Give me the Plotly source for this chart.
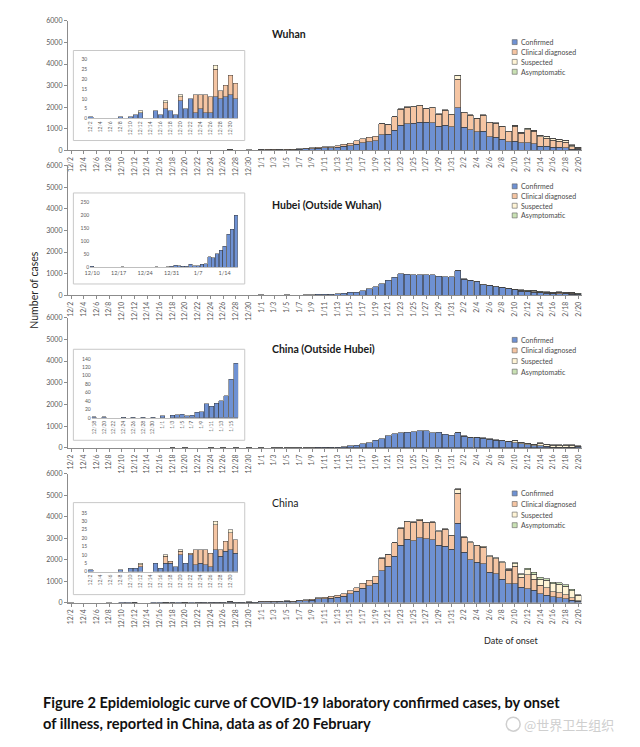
import plotly.graph_objects as go

# ---------------- categories ----------------
DATES = ["12/2", "12/3", "12/4", "12/5", "12/6", "12/7", "12/8", "12/9", "12/10", "12/11",
         "12/12", "12/13", "12/14", "12/15", "12/16", "12/17", "12/18", "12/19", "12/20", "12/21",
         "12/22", "12/23", "12/24", "12/25", "12/26", "12/27", "12/28", "12/29", "12/30", "12/31",
         "1/1", "1/2", "1/3", "1/4", "1/5", "1/6", "1/7", "1/8", "1/9", "1/10",
         "1/11", "1/12", "1/13", "1/14", "1/15", "1/16", "1/17", "1/18", "1/19", "1/20",
         "1/21", "1/22", "1/23", "1/24", "1/25", "1/26", "1/27", "1/28", "1/29", "1/30", "1/31",
         "2/1", "2/2", "2/3", "2/4", "2/5", "2/6", "2/7", "2/8", "2/9", "2/10",
         "2/11", "2/12", "2/13", "2/14", "2/15", "2/16", "2/17", "2/18", "2/19", "2/20"]

SERIES_NAMES = ["Confirmed", "Clinical diagnosed", "Suspected", "Asymptomatic"]

# ---------------- Wuhan ----------------
WUHAN_CONFIRMED = [1, 0, 0, 0, 0, 0, 1, 0, 1, 2, 3, 0, 0, 4, 2, 5, 4, 2, 9, 5, 10, 3, 5, 3, 3, 11, 10, 11, 12, 10,
                   30, 35, 30, 22, 42, 32, 60, 68, 85, 100, 120, 125, 150, 190, 220, 290, 350, 400, 450, 720,
                   760, 930, 1160, 1240, 1250, 1300, 1300, 1290, 1120, 1170, 1100,
                   1980, 1080, 960, 860, 880, 630, 600, 510, 400, 420, 360, 350, 320, 200, 190, 150, 150, 130, 60, 50]
WUHAN_CLINICAL = [0, 0, 0, 0, 0, 0, 0, 0, 0, 0, 0, 0, 0, 0, 0, 3, 0, 0, 2, 0, 0, 9, 7, 9, 8, 14, 4, 6, 10, 8,
                  10, 15, 15, 8, 18, 13, 25, 27, 35, 40, 50, 55, 65, 90, 110, 150, 180, 200, 210, 505,
                  435, 620, 755, 770, 770, 770, 620, 690, 550, 690, 560,
                  1320, 660, 670, 620, 750, 650, 650, 600, 460, 700, 440, 600, 560, 440, 370, 320, 280, 250, 120, 60]
WUHAN_SUSPECTED = [0, 0, 0, 0, 0, 0, 0, 0, 0, 0, 1, 0, 0, 0, 0, 1, 0, 0, 1, 0, 0, 0, 0, 0, 0, 2, 0, 0, 0, 0,
                   0, 0, 0, 0, 0, 0, 0, 0, 0, 0, 0, 0, 0, 0, 0, 0, 0, 0, 0, 5,
                   5, 10, 15, 20, 20, 20, 20, 20, 20, 20, 20,
                   160, 20, 20, 20, 20, 20, 20, 20, 20, 40, 30, 60, 60, 60, 70, 70, 80, 90, 70, 30]
WUHAN_ASYMPTOMATIC = [0] * 61 + [10, 0, 0, 0, 0, 0, 0, 0, 0, 5, 5, 5, 5, 10, 10, 10, 10, 10, 10, 5]

# ---------------- Hubei (outside Wuhan) ----------------
HUBEI_CONFIRMED = [0, 0, 0, 0, 0, 0, 0, 0, 3, 0, 0, 0, 0, 0, 0, 0, 1, 0, 0, 0, 0, 0, 0, 0, 0, 2, 0, 0, 2, 3,
                   8, 6, 4, 4, 12, 5, 5, 12, 14, 40, 37, 52, 66, 80, 127, 146, 200, 300, 400, 520,
                   680, 840, 990, 960, 950, 950, 950, 950, 870, 860, 860,
                   1120, 740, 680, 620, 490, 450, 400, 360, 300, 240, 190, 160, 140, 100, 80, 70, 70, 60, 50, 40]
HUBEI_CLINICAL = [0] * 61 + [0, 0, 0, 0, 0, 0, 0, 0, 0, 10, 15, 20, 20, 25, 25, 25, 30, 30, 30, 15]
HUBEI_SUSPECTED = [0] * 61 + [10, 10, 10, 10, 10, 10, 15, 15, 20, 25, 30, 35, 35, 40, 40, 40, 45, 45, 45, 20]
HUBEI_ASYMPTOMATIC = [0] * 61 + [0, 0, 0, 0, 0, 0, 0, 0, 5, 5, 5, 5, 5, 10, 10, 10, 10, 10, 10, 5]

# ---------------- China (outside Hubei) ----------------
OUTSIDE_CONFIRMED = [0, 0, 0, 0, 0, 0, 0, 0, 0, 0, 0, 0, 0, 0, 0, 0, 2, 0, 2, 0, 0, 0, 1, 0, 1, 0, 1, 0, 1, 0,
                     5, 0, 6, 7, 8, 5, 6, 13, 14, 33, 27, 35, 40, 52, 92, 129, 190, 240, 350, 430,
                     570, 660, 700, 730, 750, 790, 780, 690, 730, 630, 590,
                     690, 540, 490, 480, 450, 400, 360, 320, 280, 240, 200, 150, 110, 110, 70, 40, 40, 35, 30, 50]
OUTSIDE_CLINICAL = [0] * 81
OUTSIDE_SUSPECTED = [0] * 61 + [10, 10, 10, 10, 10, 15, 15, 20, 30, 80, 50, 60, 50, 110, 70, 90, 90, 95, 100, 30]
OUTSIDE_ASYMPTOMATIC = [0] * 61 + [0, 0, 0, 0, 0, 0, 0, 0, 5, 10, 10, 10, 10, 10, 10, 10, 10, 10, 10, 10]

# ---------------- China ----------------
CHINA_CONFIRMED = [1, 0, 0, 0, 0, 0, 1, 0, 2, 2, 3, 0, 0, 5, 2, 5, 5, 3, 10, 5, 10, 4, 5, 4, 3, 13, 9, 12, 13, 11,
                   45, 48, 40, 33, 60, 45, 75, 90, 110, 170, 175, 210, 240, 300, 400, 520, 660, 780, 900, 1490,
                   1690, 2150, 2680, 2950, 2880, 3020, 2980, 2920, 2680, 2620, 2490,
                   3690, 2340, 2000, 1880, 1800, 1415, 1340, 1080, 880, 880, 720, 650, 570, 415, 340, 260, 230, 185, 110, 60]
CHINA_CLINICAL = [0, 0, 0, 0, 0, 0, 0, 0, 0, 0, 1, 0, 0, 0, 0, 4, 1, 0, 2, 0, 1, 9, 8, 9, 8, 15, 4, 6, 10, 8,
                  15, 17, 15, 12, 20, 15, 25, 30, 40, 60, 65, 80, 90, 120, 150, 180, 240, 270, 330, 580,
                  530, 630, 780, 820, 860, 830, 740, 820, 630, 800, 620,
                  1400, 700, 790, 760, 780, 720, 700, 780, 620, 820, 450, 650, 520, 380, 340, 250, 220, 180, 120, 30]
CHINA_SUSPECTED = [0, 0, 0, 0, 0, 0, 0, 0, 0, 0, 1, 0, 0, 0, 0, 1, 0, 0, 1, 0, 0, 0, 0, 0, 0, 2, 0, 0, 2, 0,
                   0, 0, 0, 0, 0, 0, 0, 0, 0, 0, 0, 0, 0, 0, 0, 0, 0, 0, 0, 10,
                   10, 20, 30, 30, 30, 30, 30, 30, 30, 30, 30,
                   200, 40, 40, 40, 40, 45, 40, 50, 50, 100, 120, 220, 240, 300, 350, 370, 400, 400, 330, 240]
CHINA_ASYMPTOMATIC = [0] * 61 + [20, 0, 0, 0, 0, 0, 0, 0, 20, 50, 50, 80, 85, 85, 80, 70, 70, 65, 55, 40]

PANEL_TITLES = ["Wuhan", "Hubei (Outside Wuhan)", "China (Outside Hubei)", "China"]
PANEL_DATA = [
    [WUHAN_CONFIRMED, WUHAN_CLINICAL, WUHAN_SUSPECTED, WUHAN_ASYMPTOMATIC],
    [HUBEI_CONFIRMED, HUBEI_CLINICAL, HUBEI_SUSPECTED, HUBEI_ASYMPTOMATIC],
    [OUTSIDE_CONFIRMED, OUTSIDE_CLINICAL, OUTSIDE_SUSPECTED, OUTSIDE_ASYMPTOMATIC],
    [CHINA_CONFIRMED, CHINA_CLINICAL, CHINA_SUSPECTED, CHINA_ASYMPTOMATIC],
]
MAIN_TICKS = DATES[::2]
MAIN_YTICKS = [0, 1000, 2000, 3000, 4000, 5000, 6000]

# inset windows: (start index, stop index, y max, y step, tick labels, tick angle)
INSETS = [
    (0, 30, 30, 5, DATES[0:30:2], -90),
    (8, 47, 250, 50, DATES[8:47:7], 0),
    (16, 46, 140, 20, DATES[16:46:2], -90),
    (0, 30, 35, 5, DATES[0:30:2], -90),
]

# ---------------- styling / geometry ----------------
W, H = 640, 747
COLORS = ["#6E91D3", "#F5C5A3", "#FFF4D6", "#C9E1B4"]
EDGE = "#3c3c3c"
AXIS_GREY = "#8c8c8c"
TICK_GREY = "#595959"
FONT = "Lato"


def fx(x):
    return x / W


def fy(y):
    return 1 - y / H


MAIN_X = (62.5, 581)
MAIN_Y = [(147, 16), (293.3, 162.5), (447.7, 316), (604, 474)]
INSET_X = [(83, 234), (85, 234), (86.5, 234.5), (83, 234)]
INSET_Y = [(114.7, 55), (265, 199.3), (417.3, 357.7), (572.7, 513.3)]
INSET_BOX = [(68, 46, 241, 137), (68, 190, 241, 282), (68, 348, 241, 440), (68, 503, 241, 596)]
TITLE_POS = [(266, 29), (266, 202), (266, 348), (266, 503)]
LEGEND_POS = [(37.5, 10.0), (183.3, 9.8), (338.5, 10.7), (493.7, 10.7)]


def clean(v):
    return [a if a else None for a in v]


fig = go.Figure()
layout = {}
shapes = []
annotations = []

for i, series_list in enumerate(PANEL_DATA):
    k = i + 1
    sx = "" if k == 1 else str(k)
    for s, col, nm in zip(series_list, COLORS, SERIES_NAMES):
        fig.add_trace(go.Bar(
            x=DATES, y=clean(s), name=nm, showlegend=False,
            xaxis="x" + sx, yaxis="y" + sx,
            marker=dict(color=col, line=dict(color=EDGE, width=0.6)),
        ))
    layout["xaxis" + sx] = dict(
        domain=[fx(MAIN_X[0]), fx(MAIN_X[1])], anchor="y" + sx,
        type="category", categoryorder="array", categoryarray=DATES,
        range=[-0.5, len(DATES) - 0.5],
        tickmode="array", tickvals=MAIN_TICKS, ticktext=MAIN_TICKS,
        tickangle=-90, tickfont=dict(size=6.8, color=TICK_GREY, family=FONT),
        showline=True, linecolor=AXIS_GREY, linewidth=1,
        ticks="outside", ticklen=3, tickcolor=AXIS_GREY, showgrid=False,
    )
    layout["yaxis" + sx] = dict(
        domain=[fy(MAIN_Y[i][0]), fy(MAIN_Y[i][1])], anchor="x" + sx,
        range=[0, 6000], tickmode="array", tickvals=MAIN_YTICKS,
        tickfont=dict(size=7, color=TICK_GREY, family=FONT),
        showline=True, linecolor=AXIS_GREY, linewidth=1,
        ticks="outside", ticklen=3, tickcolor=AXIS_GREY,
        showgrid=False, zeroline=False,
    )

    # inset
    j = i + 5
    sj = str(j)
    a, b, ymax, ystep, ticks, ang = INSETS[i]
    cats = DATES[a:b]
    for s, col, nm in zip(series_list, COLORS, SERIES_NAMES):
        fig.add_trace(go.Bar(
            x=cats, y=clean(s[a:b]), name=nm, showlegend=False,
            xaxis="x" + sj, yaxis="y" + sj,
            marker=dict(color=col, line=dict(color=EDGE, width=0.5)),
        ))
    layout["xaxis" + sj] = dict(
        domain=[fx(INSET_X[i][0]), fx(INSET_X[i][1])], anchor="y" + sj,
        type="category", categoryorder="array", categoryarray=cats,
        range=[-0.5, len(cats) - 0.5],
        tickmode="array", tickvals=ticks, ticktext=ticks, tickangle=ang,
        tickfont=dict(size=5 if ang else 5.5, color=TICK_GREY, family=FONT),
        showline=True, linecolor="#bfbfbf", linewidth=0.8, ticks="", showgrid=False,
    )
    layout["yaxis" + sj] = dict(
        domain=[fy(INSET_Y[i][0]), fy(INSET_Y[i][1])], anchor="x" + sj,
        range=[0, ymax], tickmode="linear", tick0=0, dtick=ystep,
        tickfont=dict(size=5, color=TICK_GREY, family=FONT),
        showline=False, showgrid=False, zeroline=False, ticks="",
    )
    x0, y0, x1, y1 = INSET_BOX[i]
    shapes.append(dict(type="rect", xref="paper", yref="paper",
                       x0=fx(x0), x1=fx(x1), y0=fy(y1), y1=fy(y0),
                       line=dict(color="#c8c8c8", width=1), fillcolor="rgba(0,0,0,0)", layer="above"))

    # panel title
    tx, ty = TITLE_POS[i]
    annotations.append(dict(text=PANEL_TITLES[i], xref="paper", yref="paper", x=fx(tx), y=fy(ty),
                            xanchor="left", yanchor="middle", showarrow=False,
                            font=dict(family=FONT, size=10.5, color="#1a1a1a",
                                      weight=400 if i == 3 else 700)))

    # legend
    ly, ldy = LEGEND_POS[i]
    for r, (nm, col) in enumerate(zip(SERIES_NAMES, COLORS)):
        yy = ly + r * ldy
        shapes.append(dict(type="rect", xref="paper", yref="paper",
                           x0=fx(511), x1=fx(516), y0=fy(yy + 2.5), y1=fy(yy - 2.5),
                           line=dict(color="#606060", width=0.6), fillcolor=col, layer="above"))
        annotations.append(dict(text=nm, xref="paper", yref="paper", x=fx(517.5), y=fy(yy),
                                xanchor="left", yanchor="middle", showarrow=False,
                                font=dict(family=FONT, size=7, color="#4a4a4a")))

annotations.append(dict(text="Number of cases", xref="paper", yref="paper", x=fx(28), y=fy(288),
                        textangle=-90, showarrow=False, xanchor="center", yanchor="middle",
                        font=dict(family=FONT, size=10.5, color="#262626")))
annotations.append(dict(text="Date of onset", xref="paper", yref="paper", x=fx(510), y=fy(642),
                        showarrow=False, xanchor="center", yanchor="middle",
                        font=dict(family=FONT, size=9, color="#262626")))
annotations.append(dict(text="Figure 2 Epidemiologic curve of COVID-19 laboratory confirmed cases, by onset",
                        xref="paper", yref="paper", x=fx(35), y=fy(705), showarrow=False,
                        xanchor="left", yanchor="middle",
                        font=dict(family=FONT, size=14.6, color="#111111", weight=700)))
annotations.append(dict(text="of illness, reported in China, data as of 20 February",
                        xref="paper", yref="paper", x=fx(35), y=fy(726), showarrow=False,
                        xanchor="left", yanchor="middle",
                        font=dict(family=FONT, size=14.6, color="#111111", weight=700)))
annotations.append(dict(text="@世界卫生组织", xref="paper", yref="paper", x=fx(521), y=fy(727),
                        showarrow=False, xanchor="left", yanchor="middle",
                        font=dict(family="Noto Sans CJK SC", size=13, color="#cfcfcf")))
shapes.append(dict(type="circle", xref="paper", yref="paper",
                   x0=fx(505), x1=fx(519), y0=fy(734), y1=fy(720),
                   line=dict(color="#cfcfcf", width=1.5), fillcolor="rgba(0,0,0,0)"))

fig.update_layout(
    width=W, height=H, autosize=False,
    margin=dict(l=0, r=0, t=0, b=0),
    paper_bgcolor="white", plot_bgcolor="rgba(0,0,0,0)",
    barmode="stack", bargap=0.08,
    font=dict(family=FONT),
    shapes=shapes, annotations=annotations,
    showlegend=False,
    **layout,
)

fig.write_html("out.html", config={"displayModeBar": False},
               post_script="document.body.style.margin='0';")
